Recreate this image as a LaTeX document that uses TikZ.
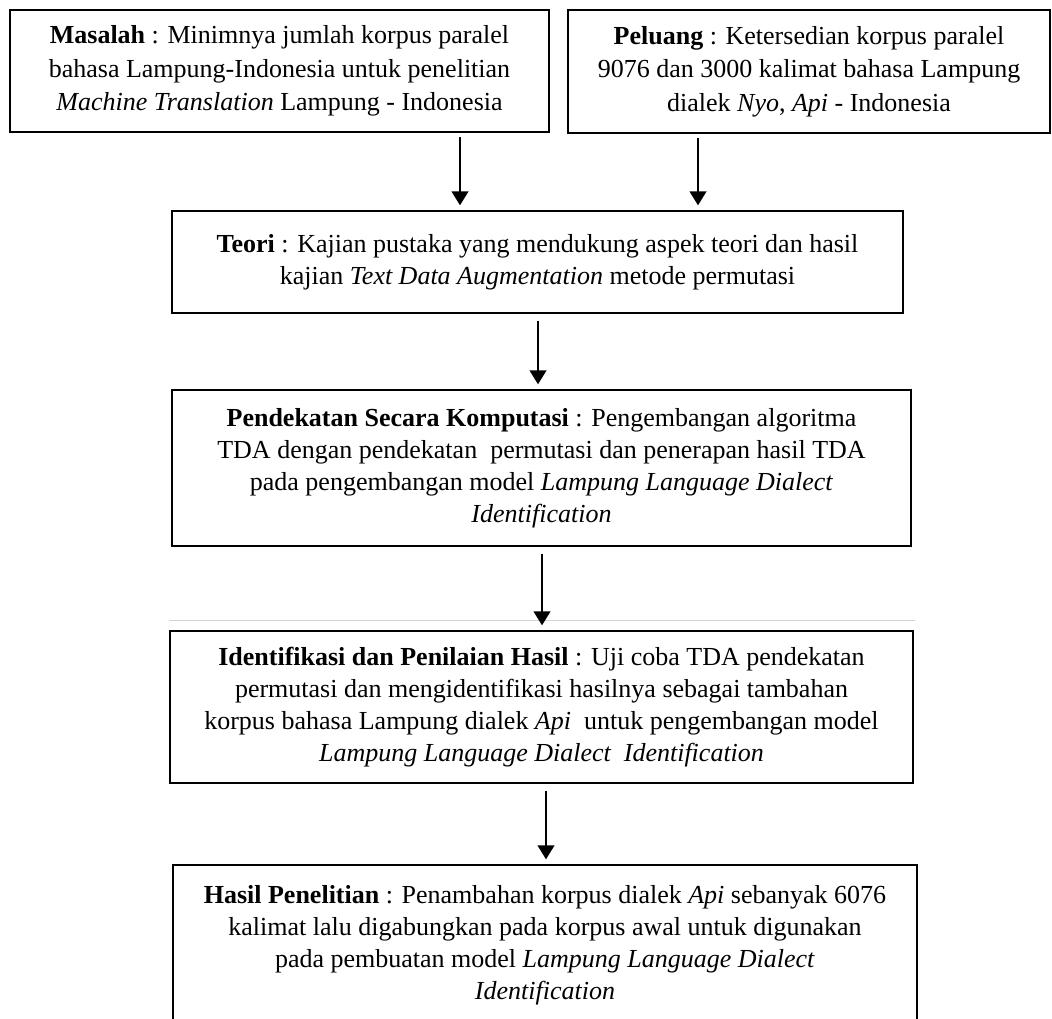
\documentclass[tikz,border=0pt]{standalone}
\usepackage{fontspec}
\setmainfont{Liberation Serif}
\usetikzlibrary{arrows.meta}
\begin{document}
\begin{tikzpicture}[x=0.75pt,y=-0.75pt,
  box/.style={draw=black, line width=1.5pt, rectangle, inner sep=0pt,
    align=center, font=\fontsize{19.5pt}{24pt}\selectfont},
  topbox/.style={box, font=\fontsize{19.5pt}{25.2pt}\selectfont},
  arr/.style={line width=1.5pt, -{Triangle[length=10.5pt,width=12.5pt]}}]
\clip (0,0) rectangle (1052,1018);
\useasboundingbox (0,0) rectangle (1052,1018);

% top row: problem and opportunity
\node[topbox, minimum width={539*0.75pt}, minimum height={122*0.75pt}] (masalah) at (279.5,71)
  {\textbf{Masalah} : Minimnya jumlah korpus paralel\\
   bahasa Lampung-Indonesia untuk penelitian\\
   \textit{Machine Translation} Lampung - Indonesia};
\node[topbox, minimum width={482*0.75pt}, minimum height={123*0.75pt}] (peluang) at (809,71.5)
  {\textbf{Peluang} : Ketersedian korpus paralel\\
   9076 dan 3000 kalimat bahasa Lampung\\
   dialek \textit{Nyo}, \textit{Api} - Indonesia};

% main chain
\node[box, minimum width={731*0.75pt}, minimum height={102*0.75pt}] (teori) at (537.5,262)
  {\textbf{Teori} : Kajian pustaka yang mendukung aspek teori dan hasil\\
   kajian \textit{Text Data Augmentation} metode permutasi};
\node[box, minimum width={739*0.75pt}, minimum height={156*0.75pt}] (komputasi) at (541.5,468)
  {\textbf{Pendekatan Secara Komputasi} : Pengembangan algoritma\\
   TDA dengan pendekatan\ \ permutasi dan penerapan hasil TDA\\
   pada pengembangan model \textit{Lampung Language Dialect}\\
   \textit{Identification}};
\node[box, minimum width={743*0.75pt}, minimum height={152*0.75pt}] (identifikasi) at (541.5,707)
  {\textbf{Identifikasi dan Penilaian Hasil} : Uji coba TDA pendekatan\\
   permutasi dan mengidentifikasi hasilnya sebagai tambahan\\
   korpus bahasa Lampung dialek \textit{Api}\ \ untuk pengembangan model\\
   \textit{Lampung Language Dialect\ \ Identification}};
\node[box, minimum width={744*0.75pt}, minimum height={160*0.75pt}] (hasil) at (545,945)
  {\textbf{Hasil Penelitian} : Penambahan korpus dialek \textit{Api} sebanyak 6076\\
   kalimat lalu digabungkan pada korpus awal untuk digunakan\\
   pada pembuatan model \textit{Lampung Language Dialect}\\
   \textit{Identification}};

% faint grey rule above the identification box
\draw[gray!35, line width=0.6pt] (169,620) -- (915,620);

% arrow columns
\coordinate (c1) at (460,0);
\coordinate (c2) at (698,0);
\coordinate (c3) at (538,0);
\coordinate (c4) at (542,0);
\coordinate (c5) at (546,0);

\draw[arr] ([yshift=-3pt]masalah.south -| c1) -- ([yshift=3.5pt]teori.north -| c1);
\draw[arr] ([yshift=-3pt]peluang.south -| c2) -- ([yshift=3.5pt]teori.north -| c2);
\draw[arr] ([yshift=-5pt]teori.south -| c3) -- ([yshift=3.5pt]komputasi.north -| c3);
\draw[arr] ([yshift=-5pt]komputasi.south -| c4) -- ([yshift=3.5pt]identifikasi.north -| c4);
\draw[arr] ([yshift=-5pt]identifikasi.south -| c5) -- ([yshift=3.5pt]hasil.north -| c5);
\end{tikzpicture}
\end{document}
